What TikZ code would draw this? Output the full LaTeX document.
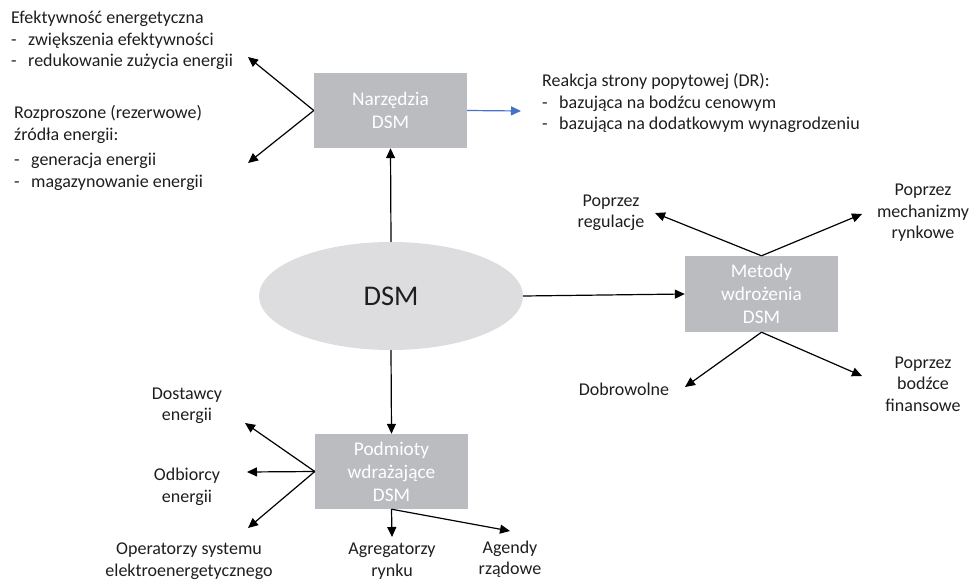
\documentclass[tikz,border=0pt]{standalone}
\usepackage{fontspec}
\setmainfont{Carlito}
\usetikzlibrary{shapes.geometric,arrows.meta}
\definecolor{boxgray}{RGB}{187,188,191}
\definecolor{ellgray}{RGB}{221,221,223}
\definecolor{drblue}{RGB}{68,114,196}
\definecolor{txtgray}{RGB}{30,30,30}
\newcommand{\itm}[1]{\makebox[17pt][l]{-}#1}

\begin{document}
\begin{tikzpicture}[x=1pt,y=-1pt,
  font=\fontsize{18}{21.5}\selectfont, text=txtgray,
  box/.style={fill=boxgray, text=white, minimum width=153pt, minimum height=75pt,
    align=center, inner sep=0pt, font=\fontsize{19.3}{23}\selectfont},
  arr/.style={-{Triangle[length=10pt,width=9pt]}, line width=1.2pt},
  lbl/.style={align=center, inner sep=0pt},
  lst/.style={align=left, anchor=west, inner sep=0pt}]
  \useasboundingbox (0,0) rectangle (971,581);

  % centre
  \node[ellipse, fill=ellgray, minimum width=264pt, minimum height=108pt, inner sep=0pt,
    font=\fontsize{28.5}{30}\selectfont] (dsm) at (391,296) {DSM};
  \node[box] (narz) at (390.5,110.5) {Narzędzia\\DSM};
  \node[box, minimum height=76pt] (metody) at (761.5,294) {Metody\\wdrożenia\\DSM};
  \node[box] (podm) at (391.5,471.5) {Podmioty\\wdrażające\\DSM};
  \draw[arr] (dsm.north) -- (narz.south);
  \draw[arr] (dsm.east) -- (metody.west);
  \draw[arr] (dsm.south) -- (podm.north);

  % narzedzia
  \node[lst] (efekt) at (11,40.5) {Efektywność energetyczna\\\itm{zwiększenia efektywności}\\\itm{redukowanie zużycia energii}};
  \node[lst] (rozpr) at (14,148) {Rozproszone (rezerwowe)\\źródła energii:\\[4pt]\itm{generacja energii}\\\itm{magazynowanie energii}};
  \node[lst] (dr) at (542,103) {Reakcja strony popytowej (DR):\\\itm{bazująca na bodźcu cenowym}\\\itm{bazująca na dodatkowym wynagrodzeniu}};
  \coordinate (e1) at (248,57);
  \coordinate (e2) at (248,163);
  \coordinate (e3) at (521,111);
  \draw[arr] (narz.west) -- (e1);
  \draw[arr] (narz.west) -- (e2);
  \draw[arr, drblue] (narz.east) -- (e3);

  % metody
  \node[lbl] (regul) at (611,213) {Poprzez\\regulacje};
  \node[lbl] (rynk) at (923,213) {Poprzez\\mechanizmy\\rynkowe};
  \node[lbl] (dobro) at (624,389) {Dobrowolne};
  \node[lbl] (finans) at (923,384) {Poprzez\\bodźce\\finansowe};
  \coordinate (m1) at (655,213);
  \coordinate (m2) at (862,214);
  \coordinate (m3) at (685,387);
  \coordinate (m4) at (862,376);
  \draw[arr] (metody.north) -- (m1);
  \draw[arr] (metody.north) -- (m2);
  \draw[arr] (metody.south) -- (m3);
  \draw[arr] (metody.south) -- (m4);

  % podmioty
  \node[lbl] (dostaw) at (187,406) {Dostawcy\\energii};
  \node[lbl] (odbior) at (187,487) {Odbiorcy\\energii};
  \node[lbl] (operat) at (189,561) {Operatorzy systemu\\elektroenergetycznego};
  \node[lbl] (agreg) at (392,561) {Agregatorzy\\rynku};
  \node[lbl] (agend) at (510,559) {Agendy\\rządowe};
  \coordinate (p1) at (245,423);
  \coordinate (p2) at (247,472);
  \coordinate (p3) at (248,528);
  \coordinate (p4) at (392,537);
  \coordinate (p5) at (510,531);
  \draw[arr] (podm.west) -- (p1);
  \draw[arr] (podm.west) -- (p2);
  \draw[arr] (podm.west) -- (p3);
  \draw[arr] (podm.south) -- (p4);
  \draw[arr] (podm.south) -- (p5);
\end{tikzpicture}
\end{document}
